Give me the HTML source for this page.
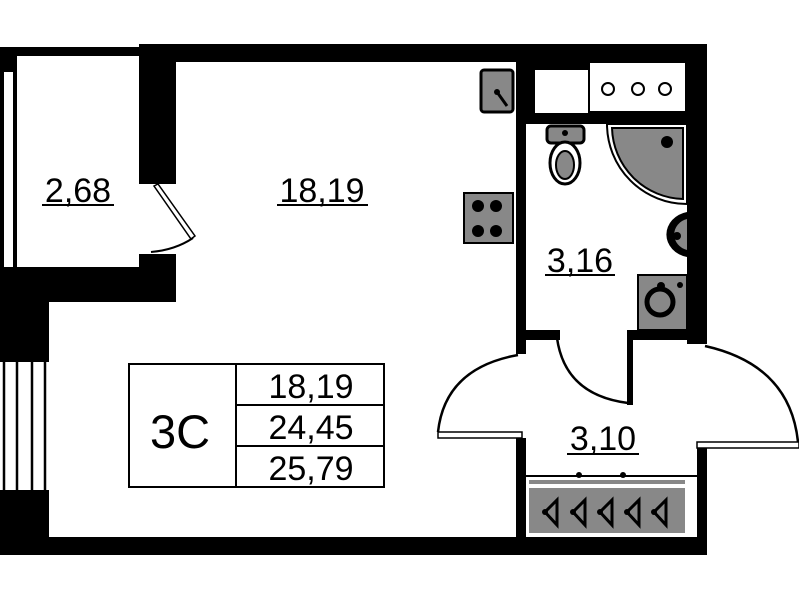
<!DOCTYPE html>
<html><head><meta charset="utf-8"><style>
html,body{margin:0;padding:0;background:#fff;}
svg{display:block;}
text{font-family:"Liberation Sans",sans-serif;fill:#000;}
</style></head><body>
<svg width="799" height="600" viewBox="0 0 799 600" xmlns="http://www.w3.org/2000/svg">
<rect width="799" height="600" fill="#fff"/>
<!-- balcony -->
<rect x="0" y="47" width="140" height="9" fill="#000"/>
<rect x="0" y="47" width="17" height="25" fill="#000"/>
<rect x="0" y="72" width="4" height="196" fill="#000"/>
<rect x="13" y="72" width="4" height="196" fill="#000"/>
<!-- main walls -->
<rect x="139" y="44" width="568" height="18" fill="#000"/>
<rect x="139" y="44" width="37" height="140" fill="#000"/>
<rect x="139" y="254" width="37" height="48" fill="#000"/>
<rect x="0" y="267" width="176" height="35" fill="#000"/>
<rect x="0" y="267" width="49" height="95" fill="#000"/>
<rect x="0" y="490" width="49" height="65" fill="#000"/>
<g stroke="#000" stroke-width="2.5">
<line x1="4" y1="362" x2="4" y2="490"/><line x1="17" y1="362" x2="17" y2="490"/>
<line x1="32" y1="362" x2="32" y2="490"/><line x1="45" y1="362" x2="45" y2="490"/>
</g>
<rect x="0" y="537" width="707" height="18" fill="#000"/>
<!-- balcony door -->
<polygon points="154,186 158,184 195,236 191,239" fill="#fff" stroke="#000" stroke-width="1.5"/>
<path d="M151,252 Q175,250 193,238" fill="none" stroke="#000" stroke-width="2"/>
<!-- bathroom walls -->
<rect x="516" y="62" width="10" height="292" fill="#000"/>
<rect x="516" y="62" width="171" height="62" fill="#000"/>
<rect x="687" y="44" width="20" height="300" fill="#000"/>
<rect x="535" y="70" width="53" height="43" fill="#fff"/>
<rect x="590" y="63" width="95" height="48" fill="#fff"/>
<g fill="none" stroke="#000" stroke-width="2"><circle cx="608" cy="89" r="6"/><circle cx="638" cy="89" r="6"/><circle cx="665" cy="89" r="6"/></g>
<rect x="516" y="330" width="44" height="10" fill="#000"/>
<rect x="627" y="330" width="70" height="10" fill="#000"/>
<rect x="627" y="330" width="6" height="75" fill="#000"/>
<path d="M557,338 Q565,395 628,403" fill="none" stroke="#000" stroke-width="2.5"/>
<!-- entrance doors -->
<path d="M518,355 Q445,368 438,432" fill="none" stroke="#000" stroke-width="2.5"/>
<rect x="438" y="432" width="84" height="6" fill="#fff" stroke="#000" stroke-width="1.5"/>
<rect x="516" y="438" width="10" height="100" fill="#000"/>
<path d="M705,346 Q790,365 798,442" fill="none" stroke="#000" stroke-width="2.5"/>
<rect x="697" y="442" width="102" height="6" fill="#fff" stroke="#000" stroke-width="1.5"/>
<rect x="697" y="448" width="10" height="90" fill="#000"/>
<!-- wardrobe -->
<line x1="526" y1="476" x2="697" y2="476" stroke="#000" stroke-width="2"/>
<circle cx="579" cy="475" r="3"/><circle cx="623" cy="475" r="3"/>
<rect x="529" y="480" width="156" height="4" fill="#888"/>
<rect x="529" y="488" width="156" height="45" fill="#888"/>
<g stroke="#000" stroke-width="3" fill="none">
<path d="M545,512 L557,500 L557,525 Z"/><path d="M573,512 L585,500 L585,525 Z"/>
<path d="M600,512 L612,500 L612,525 Z"/><path d="M627,512 L639,500 L639,525 Z"/>
<path d="M654,512 L666,500 L666,525 Z"/>
</g>
<g fill="#000"><circle cx="545" cy="512" r="3"/><circle cx="573" cy="512" r="3"/><circle cx="600" cy="512" r="3"/><circle cx="627" cy="512" r="3"/><circle cx="654" cy="512" r="3"/></g>
<!-- kitchen -->
<rect x="481" y="70" width="32" height="42" rx="3" fill="#888" stroke="#000" stroke-width="3"/>
<circle cx="497" cy="92" r="3"/><line x1="497" y1="92" x2="507" y2="106" stroke="#000" stroke-width="3"/>
<rect x="464" y="193" width="49" height="50" fill="#888" stroke="#000" stroke-width="2"/>
<circle cx="478" cy="206" r="6"/><circle cx="496" cy="206" r="6"/><circle cx="478" cy="231" r="6"/><circle cx="496" cy="231" r="6"/>
<!-- toilet -->
<rect x="547" y="126" width="37" height="17" rx="4" fill="#888" stroke="#000" stroke-width="3"/>
<circle cx="565" cy="133" r="3"/>
<ellipse cx="565" cy="163" rx="15" ry="21" fill="#fff" stroke="#000" stroke-width="3"/>
<ellipse cx="565" cy="165" rx="9" ry="14" fill="#888" stroke="#000" stroke-width="2"/>
<!-- shower -->
<path d="M687,124 L607,124 A80,80 0 0 0 687,204 Z" fill="#fff" stroke="#000" stroke-width="2"/>
<path d="M683,128 L612,128 A73,73 0 0 0 683,199 Z" fill="#888" stroke="#000" stroke-width="2"/>
<circle cx="667" cy="142" r="6"/>
<!-- basin -->
<path d="M687,212 A26,23 0 0 0 687,257 Z" fill="#000"/>
<path d="M687,219 A17,16 0 0 0 687,250 Z" fill="#888"/>
<circle cx="677" cy="236" r="4"/>
<!-- washer -->
<rect x="638" y="275" width="49" height="55" fill="#888" stroke="#000" stroke-width="2"/>
<circle cx="660" cy="302" r="13" fill="#888" stroke="#000" stroke-width="5"/>
<circle cx="661" cy="286" r="4"/><circle cx="680" cy="285" r="3"/>
<!-- labels -->
<text x="78" y="202" font-size="34" text-anchor="middle">2,68</text>
<line x1="42" y1="205" x2="114" y2="205" stroke="#000" stroke-width="2"/>
<text x="322" y="202" font-size="34" text-anchor="middle">18,19</text>
<line x1="277" y1="205" x2="368" y2="205" stroke="#000" stroke-width="2"/>
<text x="580" y="272" font-size="34" text-anchor="middle">3,16</text>
<line x1="545" y1="275" x2="615" y2="275" stroke="#000" stroke-width="2"/>
<text x="603" y="450" font-size="34" text-anchor="middle">3,10</text>
<line x1="567" y1="454" x2="639" y2="454" stroke="#000" stroke-width="2"/>
<!-- table -->
<rect x="129" y="364" width="255" height="123" fill="none" stroke="#000" stroke-width="2"/>
<line x1="236" y1="364" x2="236" y2="487" stroke="#000" stroke-width="2"/>
<line x1="236" y1="405" x2="384" y2="405" stroke="#000" stroke-width="2"/>
<line x1="236" y1="446" x2="384" y2="446" stroke="#000" stroke-width="2"/>
<text x="180" y="448" font-size="47" text-anchor="middle">3С</text>
<text x="311" y="398" font-size="34" text-anchor="middle">18,19</text>
<text x="311" y="439" font-size="34" text-anchor="middle">24,45</text>
<text x="311" y="480" font-size="34" text-anchor="middle">25,79</text>
</svg>
</body></html>
